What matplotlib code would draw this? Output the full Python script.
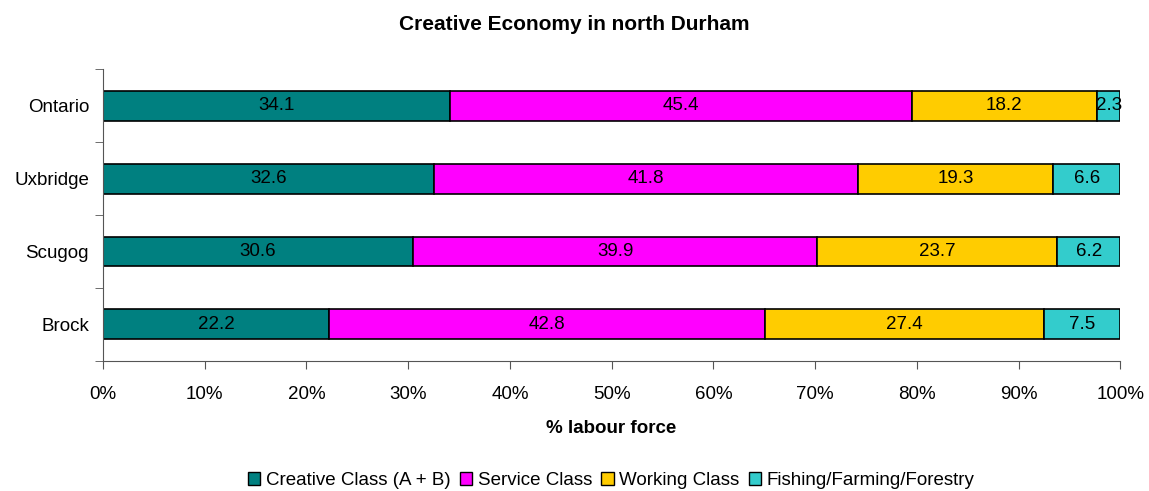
import numpy as np
import matplotlib.pyplot as plt
from matplotlib.patches import Patch

plt.rcParams['font.family'] = ['Liberation Sans', 'DejaVu Sans']

regions = ['Brock', 'Scugog', 'Uxbridge', 'Ontario']
series = ['Creative Class (A + B)', 'Service Class', 'Working Class', 'Fishing/Farming/Forestry']
creative = [22.2, 30.6, 32.6, 34.1]
service = [42.8, 39.9, 41.8, 45.4]
working = [27.4, 23.7, 19.3, 18.2]
fishing = [7.5, 6.2, 6.6, 2.3]
colors = ['#008080', '#FF00FF', '#FFCC00', '#33CCCC']

raw = np.array([creative, service, working, fishing])
share = raw / raw.sum(axis=0) * 100  # 100% stacked

fs = 13.5
fig = plt.figure(figsize=(11.49, 4.91), dpi=100)
ax = fig.add_axes([0.0896, 0.265, 0.8854, 0.594])

y = np.arange(len(regions))
left = np.zeros(len(regions))
for i in range(len(series)):
    ax.barh(y, share[i], left=left, height=0.41, color=colors[i],
            edgecolor='black', linewidth=1.2)
    for j in range(len(regions)):
        ax.text(left[j] + share[i][j] / 2, y[j], f'{raw[i][j]:.1f}',
                ha='center', va='center', fontsize=fs)
    left += share[i]

ax.set_xlim(0, 100)
ax.set_ylim(-0.5, len(regions) - 0.5)
ax.set_xticks(np.arange(0, 101, 10))
ax.set_xticklabels([f'{v}%' for v in range(0, 101, 10)], fontsize=fs)
ax.set_yticks(y)
ax.set_yticklabels(regions, fontsize=fs)
ax.tick_params(axis='y', length=0, pad=10)
ax.set_yticks(np.arange(-0.5, len(regions), 1), minor=True)
ax.tick_params(axis='y', which='minor', length=6, color='#555555')
ax.tick_params(axis='x', length=6, color='#555555', pad=12)
for s in ['top', 'right']:
    ax.spines[s].set_visible(False)
ax.spines['left'].set_color('#555555')
ax.spines['bottom'].set_color('#555555')

ax.set_xlabel('% labour force', fontsize=fs, fontweight='bold', labelpad=12)
fig.suptitle('Creative Economy in north Durham', fontsize=15, fontweight='bold', y=0.97)

handles = [Patch(facecolor=c, edgecolor='black', label=s) for c, s in zip(colors, series)]
fig.legend(handles=handles, loc='lower center', bbox_to_anchor=(0.532, -0.03), ncol=4,
           frameon=False, fontsize=fs, handlelength=0.65, handleheight=0.65,
           handletextpad=0.3, columnspacing=0.5)

fig.savefig('out.png', dpi=100)
